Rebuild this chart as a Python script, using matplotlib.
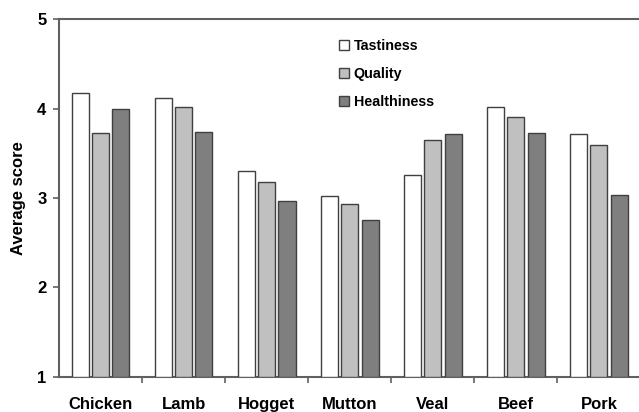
import matplotlib.pyplot as plt
import numpy as np
from matplotlib.patches import Patch

categories = ["Chicken", "Lamb", "Hogget", "Mutton", "Veal", "Beef", "Pork"]
tastiness = [4.18, 4.12, 3.30, 3.02, 3.26, 4.02, 3.72]
quality = [3.73, 4.02, 3.18, 2.93, 3.65, 3.91, 3.59]
healthiness = [4.00, 3.74, 2.97, 2.75, 3.72, 3.73, 3.03]
series_names = ["Tastiness", "Quality", "Healthiness"]
colors = ["#ffffff", "#c0c0c0", "#7f7f7f"]

plt.rcParams['font.family'] = ['Liberation Sans', 'DejaVu Sans']
plt.rcParams['font.weight'] = 'bold'

fig = plt.figure(figsize=(6.39, 4.12), dpi=100)
ax = fig.add_axes([0.0923, 0.086, 0.91, 0.867])

x = np.arange(len(categories))
pitch = 0.245
width = 0.205
for i, (vals, c) in enumerate(zip([tastiness, quality, healthiness], colors)):
    ax.bar(x + (i - 1) * pitch, np.array(vals) - 1, width, bottom=1,
           color=c, edgecolor="#404040", linewidth=1.0, zorder=3)

ax.set_xlim(-0.5, len(categories) - 0.5)
ax.set_ylim(1, 5)
ax.set_yticks([1, 2, 3, 4, 5])
ax.set_yticklabels(["1", "2", "3", "4", "5"], fontsize=12, fontweight='bold')
ax.set_xticks(x)
ax.set_xticklabels(categories, fontsize=12, fontweight='bold')
ax.tick_params(axis='x', length=0, pad=15)
ax.set_xticks(np.arange(len(categories)) + 0.5, minor=True)
ax.tick_params(axis='x', which='minor', length=4, color="#606060", width=1.2)
ax.tick_params(axis='y', length=4, color="#606060", width=1.2, pad=5)
ax.set_ylabel("Average score", fontsize=12, fontweight='bold', labelpad=8)

for s in ["left", "bottom", "top"]:
    ax.spines[s].set_color("#606060")
    ax.spines[s].set_linewidth(1.5)
ax.spines["right"].set_visible(False)

handles = [Patch(facecolor=c, edgecolor="#404040", linewidth=1.0) for c in colors]
ax.legend(handles, series_names, loc='upper left', bbox_to_anchor=(0.482, 0.944),
          frameon=False, prop={'weight': 'bold', 'size': 10.3},
          handlelength=0.7, handleheight=0.7, handletextpad=0.3,
          labelspacing=0.95, borderpad=0, borderaxespad=0)

fig.savefig("out.png", dpi=100)
